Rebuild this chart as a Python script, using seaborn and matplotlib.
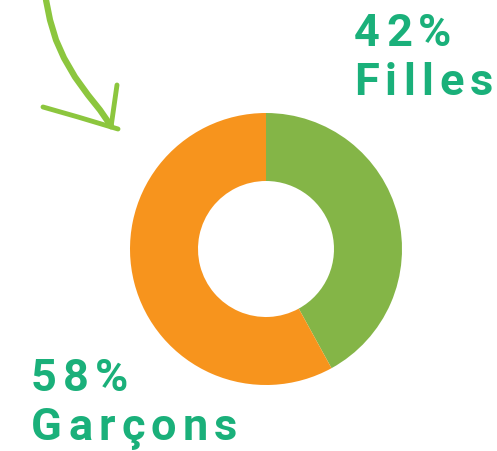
import matplotlib
matplotlib.use("Agg")
import matplotlib.pyplot as plt
import seaborn as sns

labels = ["Filles", "Garçons"]
shares = [42, 58]
slice_colors = ["#84b547", "#f7941d"]

sns.set_theme(style="white")
plt.rcParams['font.family'] = ['Roboto', 'DejaVu Sans']

W, H = 497, 451
fig = plt.figure(figsize=(W / 100, H / 100), dpi=100)
fig.patch.set_facecolor("white")

# donut box in pixels: x 130..402, y 113..385
ax = fig.add_axes([130 / W, (H - 385) / H, 272 / W, 272 / H])
ax.pie(shares, colors=slice_colors, startangle=90, counterclock=False,
       radius=1, wedgeprops=dict(width=0.5, linewidth=0))
ax.set_xlim(-1, 1)
ax.set_ylim(-1, 1)
ax.set_aspect("equal")
ax.axis("off")

renderer = fig.canvas.get_renderer()
text_color = "#1ab07a"


def spaced_text(s, x_px, base_px, size=32.5, gap=6.2):
    x = x_px
    for ch in s:
        t = fig.text(x / W, (H - base_px) / H, ch, fontsize=size,
                     fontweight="bold", color=text_color, va="baseline", ha="left")
        bb = t.get_window_extent(renderer)
        x = bb.x1 + gap


spaced_text(f"{shares[0]}%", 354, 46)
spaced_text(labels[0], 354, 95)
spaced_text(f"{shares[1]}%", 31, 391)
spaced_text(labels[1], 31, 440)

# hand-drawn arrow
deco = fig.add_axes([0, 0, 1, 1], facecolor="none")
deco.set_xlim(0, W)
deco.set_ylim(H, 0)
deco.axis("off")
arrow_color = "#8cc63e"
deco.plot([46, 50, 56, 64, 75, 88, 100, 111], [0, 20, 40, 58, 77, 95, 110, 126],
          color=arrow_color, lw=4.5, solid_capstyle="round")
deco.plot([43, 78, 118], [107, 117, 129], color=arrow_color, lw=3.5, solid_capstyle="round")
deco.plot([117, 114, 111], [85, 106, 127], color=arrow_color, lw=3.5, solid_capstyle="round")

fig.savefig("out.png", dpi=100, facecolor="white")
